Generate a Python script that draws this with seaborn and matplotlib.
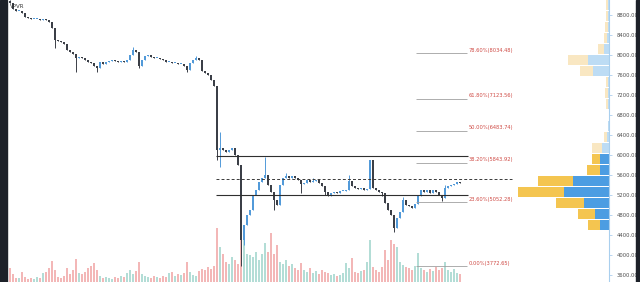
import numpy as np
import pandas as pd
import matplotlib
matplotlib.use("Agg")
import matplotlib.pyplot as plt
from matplotlib.patches import Rectangle
import seaborn as sns

# ---------------- data ----------------
first_open = 9080
closes = [9040, 8920, 8880, 8880, 8840, 8760, 8740, 8720, 8720, 8720,
          8700, 8720, 8700, 8660, 8540, 8300, 8280, 8260, 8220, 8100,
          8060, 8020, 7940, 7960, 7940, 7900, 7860, 7840, 7780, 7740,
          7860, 7820, 7860, 7880, 7900, 7880, 7860, 7880, 7860, 7900,
          8000, 8100, 8060, 7780, 7900, 7980, 8000, 7960, 7940, 7940,
          7920, 7900, 7860, 7860, 7840, 7840, 7820, 7820, 7780, 7700,
          7840, 7900, 7940, 7900, 7680, 7640, 7600, 7500, 7380, 6100,
          6140, 6100, 6060, 6100, 6140, 6000, 5800, 4300, 4600, 4800,
          4900, 5200, 5300, 5460, 5540, 5600, 5400, 5260, 5100, 5000,
          5400, 5540, 5580, 5540, 5580, 5540, 5500, 5420, 5440, 5500,
          5460, 5480, 5500, 5440, 5380, 5260, 5180, 5240, 5260, 5240,
          5280, 5280, 5300, 5480, 5380, 5340, 5320, 5340, 5300, 5320,
          5900, 5340, 5300, 5260, 5240, 5040, 4900, 4800, 4540, 4740,
          4860, 5100, 5000, 4980, 4940, 5020, 5180, 5300, 5260, 5300,
          5240, 5300, 5260, 5200, 5140, 5340, 5380, 5400, 5420, 5460,
          5440]
high_idx = [0, 70, 85, 113, 41, 62, 92, 101, 131, 145]
high_val = [9100, 6460, 5960, 5600, 8160, 7990, 5640, 5540, 5160, 5400]
low_idx = [15, 22, 29, 43, 59, 69, 70, 77, 78, 88, 97, 128, 144, 105, 124]
low_val = [8140, 7660, 7660, 7740, 7660, 5900, 5760, 3772.65, 4200, 4900, 5240, 4460, 5080, 5200, 5180]

volumes = [14, 8, 4, 4, 10, 5, 3, 4, 3, 5, 4, 9, 10, 14, 21, 12, 5, 4, 6, 14,
           8, 12, 23, 9, 8, 10, 14, 16, 19, 12, 6, 4, 5, 4, 3, 5, 4, 6, 5, 9,
           12, 8, 11, 20, 8, 6, 5, 4, 6, 5, 4, 6, 5, 9, 10, 6, 8, 7, 9, 20,
           10, 7, 6, 11, 13, 12, 15, 13, 16, 54, 35, 28, 20, 18, 25, 22, 18, 50, 45, 28,
           27, 25, 30, 22, 28, 39, 30, 49, 28, 37, 20, 18, 22, 16, 18, 14, 12, 19, 12, 10,
           14, 9, 11, 8, 12, 10, 9, 7, 8, 6, 7, 9, 19, 14, 24, 10, 9, 11, 12, 20,
           42, 15, 12, 10, 15, 32, 22, 42, 38, 35, 20, 17, 15, 14, 12, 16, 29, 14, 12, 10,
           13, 11, 15, 12, 14, 20, 12, 10, 13, 9, 8]

price_ticks = [3600, 4000, 4400, 4800, 5200, 5600, 6000, 6400, 6800, 7200, 7600, 8000, 8400, 8800]

fib_labels = ["78.60%(8034.48)", "61.80%(7123.56)", "50.00%(6483.74)",
              "38.20%(5843.92)", "23.60%(5052.28)", "0.00%(3772.65)"]
fib_values = [8034.48, 7123.56, 6483.74, 5843.92, 5052.28, 3772.65]

range_top = 5980
range_bottom = 5200
range_mid = 5520

vp_bins = [4600, 4820, 5040, 5260, 5480, 5700, 5920, 6140, 6360, 6580, 6800,
           7020, 7240, 7460, 7680, 7900, 8120, 8340, 8560, 8780, 9000]
vp_up = [12, 17, 28, 46, 35, 13, 8, 10, 3, 0, 0, 2, 3, 2, 13, 20, 6, 3, 3, 2, 2]
vp_down = [9, 14, 25, 45, 36, 9, 9, 7, 2, 1, 0, 1, 1, 1, 16, 21, 5, 2, 1, 1, 1]
vp_value_area = [True, True, True, True, True, True, True] + [False] * 14

# ---------------- build frame ----------------
n = len(closes)
opens = [first_open] + closes[:-1]
df = pd.DataFrame({"i": np.arange(n), "open": opens, "close": closes, "volume": volumes})
df["high"] = df[["open", "close"]].max(axis=1)
df["low"] = df[["open", "close"]].min(axis=1)
for k, v in zip(high_idx, high_val):
    df.loc[k, "high"] = max(v, df.loc[k, "high"])
for k, v in zip(low_idx, low_val):
    df.loc[k, "low"] = min(v, df.loc[k, "low"])
df["up"] = df["close"] >= df["open"]

# ---------------- style ----------------
sns.set_theme(style="white")
plt.rcParams['font.family'] = ['DejaVu Sans']

W, H = 640, 282
fig = plt.figure(figsize=(6.4, 2.82), dpi=100)
fig.patch.set_facecolor("white")

ax = fig.add_axes([8 / W, 0, (609 - 8) / W, 1])
ax.set_xlim(-0.667, 199.67)
ax.set_ylim(3460, 9100)

axv = ax.twinx()
axv.set_ylim(0, 282)
axv.set_axis_off()
ax.set_zorder(axv.get_zorder() + 1)
ax.patch.set_visible(False)

# volume
vcol = np.where(df["up"], "#a6d8cf", "#f1abab")
axv.bar(df["i"], df["volume"], width=0.75, color=vcol, alpha=0.85, linewidth=0)

# candles
up_c, dn_c = "#529ad9", "#3b3f47"
ccol = np.where(df["up"], up_c, dn_c)
ax.vlines(df["i"], df["low"], df["high"], colors=ccol, linewidth=0.7, zorder=3)
body_h = (df["close"] - df["open"]).abs().clip(lower=25)
ax.bar(df["i"], body_h, bottom=df[["open", "close"]].min(axis=1), width=0.75,
       color=ccol, linewidth=0, zorder=4)

# range lines
x_start = (216 - 10) / 3
x_end = (468 - 10) / 3
x_dash_end = (512 - 10) / 3
ax.hlines([range_top, range_bottom], x_start, x_end, colors="#2f2f2f", linewidth=0.8, zorder=5)
ax.hlines(range_mid, x_start, x_dash_end, colors="#3a3a3a", linewidth=0.7,
          linestyles=(0, (3, 2.2)), zorder=5)

# fib lines
fx0, fx1 = (416 - 10) / 3, (467 - 10) / 3
for lab, val in zip(fib_labels, fib_values):
    ax.hlines(val, fx0, fx1, colors="#a0a0a0", linewidth=0.6, zorder=5)
    ax.text(fx1 + 0.6, val + 65, lab, fontsize=3.7, color="#cf4a44", va="center", ha="left", zorder=6)

# axes styling
ax.yaxis.tick_right()
ax.set_yticks(price_ticks)
ax.set_yticklabels([f"{v:.2f}" for v in price_ticks], fontsize=3.8, color="#4d4d4d")
ax.tick_params(axis="y", length=2.5, width=0.5, color="#9cc5ea", pad=3)
ax.set_xticks([])
for s in ["left", "top", "bottom"]:
    ax.spines[s].set_visible(False)
ax.spines["right"].set_color("#a9cfee")
ax.spines["right"].set_linewidth(0.8)

# volume profile
axp = fig.add_axes([509 / W, 0, 100 / W, 1])
axp.set_ylim(3460, 9100)
axp.set_xlim(100, 0)
axp.set_axis_off()
axp.patch.set_visible(False)
for b, u, d, va in zip(vp_bins, vp_up, vp_down, vp_value_area):
    cu = "#f4c550" if va else "#f9e7c2"
    cd = "#4c9de2" if va else "#bddcf4"
    axp.barh(b, d, height=200, left=0, color=cd, linewidth=0)
    axp.barh(b, u, height=200, left=d, color=cu, linewidth=0)

# frame strips and label
fig.patches.append(Rectangle((0, 0), 7 / W, 1, transform=fig.transFigure, color="#1d2129", zorder=10))
fig.patches.append(Rectangle((636 / W, 0), 4 / W, 1, transform=fig.transFigure, color="#1d2129", zorder=10))
fig.text(10 / W, 1 - 6 / H, "VPVR", fontsize=4, color="#333333", va="center", ha="left")

fig.savefig("out.png", dpi=100, facecolor="white")
